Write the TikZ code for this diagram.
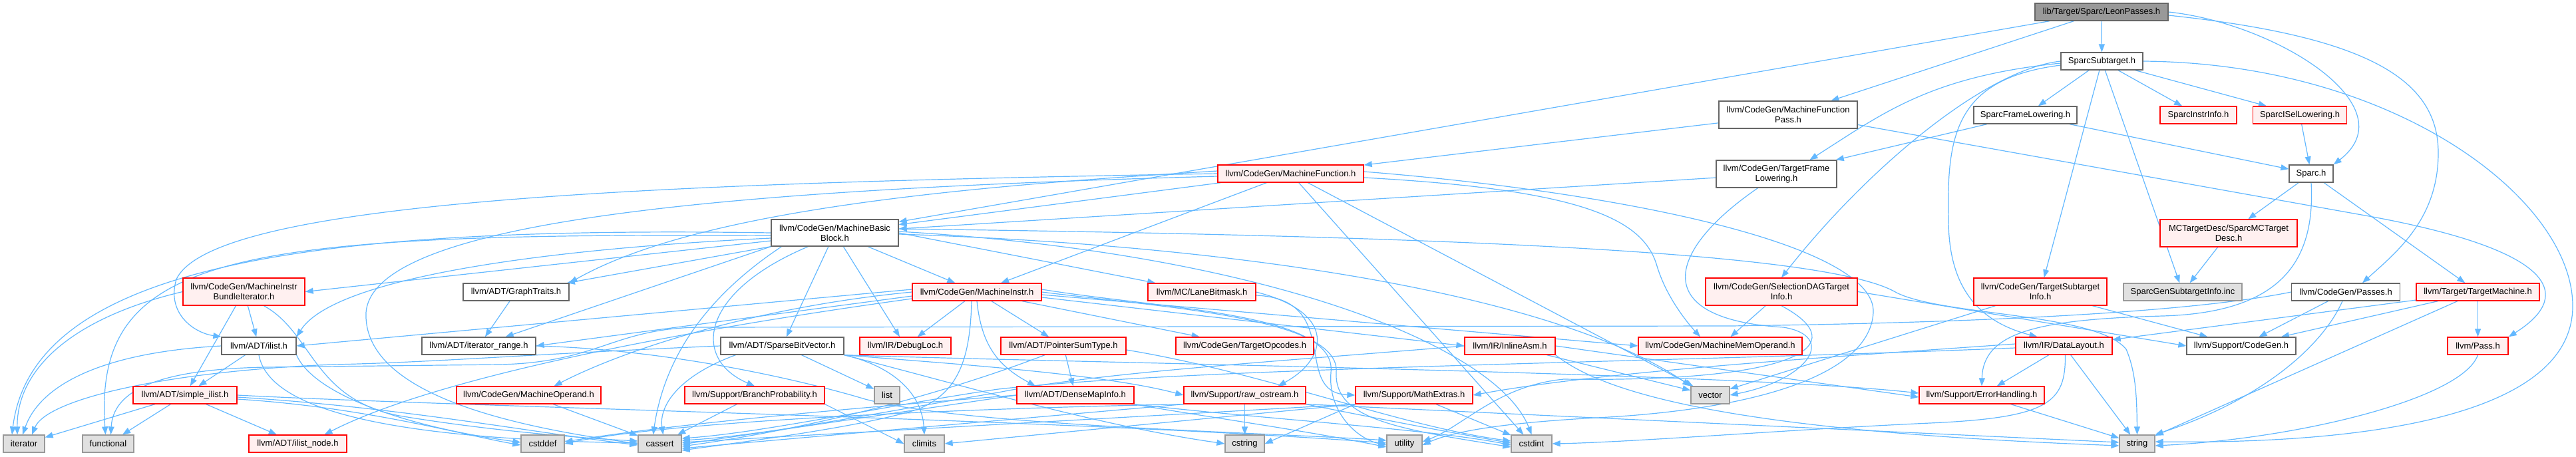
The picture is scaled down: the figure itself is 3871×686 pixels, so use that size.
\documentclass[tikz,border=0pt]{standalone}
\usepackage{fontspec}
\newfontfamily\dfont{Liberation Sans}
\usetikzlibrary{arrows.meta}
\definecolor{cedge}{HTML}{63B8FF}
\definecolor{cdark}{HTML}{666666}
\definecolor{cmid}{HTML}{999999}
\definecolor{cred}{HTML}{FF0000}
\definecolor{cpink}{HTML}{FFF0F0}
\definecolor{clgray}{HTML}{E0E0E0}
\pgfdeclarelayer{bg}
\pgfsetlayers{bg,main}
\tikzset{
  nbase/.style={line width=1.3pt, inner sep=0pt, align=center, font=\dfont\fontsize{13}{15}\selectfont},
  nbw/.style={nbase, draw=cdark, fill=white},
  nbr/.style={nbase, draw=cred, fill=cpink},
  nbg/.style={nbase, draw=cmid, fill=clgray},
  nbroot/.style={nbase, draw=cdark, fill=cmid},
  sz/.style 2 args={minimum width=#1pt, minimum height=#2pt},
  edg/.style={draw=cedge, line width=1.2pt, -{Triangle[length=12pt,width=9pt]}},
}
\begin{document}
\begin{tikzpicture}[x=1pt,y=-1pt]
\useasboundingbox (0,0) rectangle (3871,686);
% ---------- nodes ----------
\node[nbroot, sz={200}{26}] (leon) at (3158,18) {lib/Target/Sparc/LeonPasses.h};
\node[nbw, sz={123}{26}] (sub) at (3158.5,92) {SparcSubtarget.h};
\node[nbw, sz={208}{41}] (mfp) at (2687,172.5) {llvm/CodeGen/MachineFunction\\Pass.h};
\node[nbw, sz={155}{26}] (sfl) at (3043.5,173) {SparcFrameLowering.h};
\node[nbr, sz={115}{26}] (sii) at (3303.5,173) {SparcInstrInfo.h};
\node[nbr, sz={141}{26}] (sisel) at (3456,173) {SparcISelLowering.h};
\node[nbr, sz={219}{26}] (mf) at (1939.5,261) {llvm/CodeGen/MachineFunction.h};
\node[nbw, sz={181}{41}] (tfl) at (2669.5,261.5) {llvm/CodeGen/TargetFrame\\Lowering.h};
\node[nbw, sz={66}{26}] (sparc) at (3473,261) {Sparc.h};
\node[nbw, sz={191}{40}] (mbb) at (1254.5,350) {llvm/CodeGen/MachineBasic\\Block.h};
\node[nbr, sz={206}{41}] (mctd) at (3349,350.5) {MCTargetDesc/SparcMCTarget\\Desc.h};
% row 2
\node[nbr, sz={183}{41}] (mibi) at (366.5,438.5) {llvm/CodeGen/MachineInstr\\BundleIterator.h};
\node[nbw, sz={159}{26}] (gt) at (775.5,439) {llvm/ADT/GraphTraits.h};
\node[nbr, sz={194}{26}] (mi) at (1468,439) {llvm/CodeGen/MachineInstr.h};
\node[nbr, sz={162}{26}] (lane) at (1806,439) {llvm/MC/LaneBitmask.h};
\node[nbr, sz={228}{41}] (sdag) at (2677,438.5) {llvm/CodeGen/SelectionDAGTarget\\Info.h};
\node[nbr, sz={200}{41}] (tsi) at (3066,438.5) {llvm/CodeGen/TargetSubtarget\\Info.h};
\node[nbg, sz={178}{26}] (gensub) at (3280,439) {SparcGenSubtargetInfo.inc};
\node[nbw, sz={163}{26}] (passes) at (3525,439) {llvm/CodeGen/Passes.h};
\node[nbr, sz={185}{26}] (tm) at (3723.5,439) {llvm/Target/TargetMachine.h};
% row 3
\node[nbw, sz={112}{26}] (ilist) at (389,520) {llvm/ADT/ilist.h};
\node[nbw, sz={171}{26}] (itr) at (719.5,520) {llvm/ADT/iterator\_range.h};
\node[nbw, sz={185}{26}] (sbv) at (1175.5,520) {llvm/ADT/SparseBitVector.h};
\node[nbr, sz={137}{26}] (dl) at (1360.5,520) {llvm/IR/DebugLoc.h};
\node[nbr, sz={188}{26}] (pst) at (1598,520) {llvm/ADT/PointerSumType.h};
\node[nbr, sz={207}{26}] (topc) at (1870.5,520) {llvm/CodeGen/TargetOpcodes.h};
\node[nbr, sz={136}{26}] (iasm) at (2269,520) {llvm/IR/InlineAsm.h};
\node[nbr, sz={246}{26}] (mmo) at (2585,520) {llvm/CodeGen/MachineMemOperand.h};
\node[nbr, sz={145}{26}] (layout) at (3101.5,520) {llvm/IR/DataLayout.h};
\node[nbw, sz={164}{26}] (cg) at (3368,520) {llvm/Support/CodeGen.h};
\node[nbr, sz={91}{26}] (pass) at (3723.5,520) {llvm/Pass.h};
% row 4
\node[nbr, sz={156}{26}] (silist) at (278,594) {llvm/ADT/simple\_ilist.h};
\node[nbr, sz={217}{26}] (mo) at (794.5,594) {llvm/CodeGen/MachineOperand.h};
\node[nbr, sz={210}{26}] (bp) at (1134,594) {llvm/Support/BranchProbability.h};
\node[nbg, sz={38}{26}] (list) at (1333,594) {list};
\node[nbr, sz={176}{26}] (dmi) at (1616,594) {llvm/ADT/DenseMapInfo.h};
\node[nbr, sz={183}{26}] (ros) at (1870.5,594) {llvm/Support/raw\_ostream.h};
\node[nbr, sz={176}{26}] (math) at (2125,594) {llvm/Support/MathExtras.h};
\node[nbg, sz={58}{26}] (vector) at (2570,594) {vector};
\node[nbr, sz={188}{26}] (eh) at (2978,594) {llvm/Support/ErrorHandling.h};
% row 5
\node[nbg, sz={62}{26}] (iterator) at (36,667) {iterator};
\node[nbg, sz={77}{26}] (functional) at (162.5,667) {functional};
\node[nbr, sz={147}{26}] (ilistnode) at (447.5,667) {llvm/ADT/ilist\_node.h};
\node[nbg, sz={65}{26}] (cstddef) at (815.5,667) {cstddef};
\node[nbg, sz={65}{26}] (cassert) at (991.5,667) {cassert};
\node[nbg, sz={60}{26}] (climits) at (1389,667) {climits};
\node[nbg, sz={59}{26}] (cstring) at (1870.5,667) {cstring};
\node[nbg, sz={53}{26}] (utility) at (2110.5,667) {utility};
\node[nbg, sz={61}{26}] (cstdint) at (2301.5,667) {cstdint};
\node[nbg, sz={53}{26}] (string) at (3211.5,667) {string};
% ---------- edges ----------
\begin{pgfonlayer}{bg}
% LeonPasses
\draw[edg] (leon) -- (sub);
\draw[edg] (leon) -- (mfp);
\draw[edg] (leon) -- (mbb);
\draw[edg] (leon.east) .. controls (3420,35) and (3620,160) .. (sparc.north east);
\draw[edg] ([yshift=-5pt]leon.east) .. controls (3560,55) and (3664,120) .. (3664,230) .. controls (3664,330) and (3600,380) .. ([xshift=25pt]passes.north);
% SparcSubtarget
\draw[edg] (sub) -- (sfl);
\draw[edg] (sub) -- (sii);
\draw[edg] (sub) -- (sisel);
\draw[edg] (sub) -- (tsi);
\draw[edg] (sub) -- (gensub);
\draw[edg] (sub.west) .. controls (2980,105) and (2800,260) .. (sdag.north);
\draw[edg] ([yshift=-3pt]sub.west) .. controls (2900,115) and (2830,170) .. ([xshift=50pt]tfl.north);
\draw[edg] ([yshift=-6pt]sub.west) .. controls (2940,118) and (2925,200) .. (2928,330) .. controls (2928,440) and (2980,485) .. ([xshift=-40pt]layout.north);
\draw[edg] (sub.east) .. controls (3600,95) and (3866,300) .. (3866,460) .. controls (3866,640) and (3500,667) .. ([yshift=3pt]string.east);
% MachineFunctionPass
\draw[edg] (mfp) -- (mf);
\draw[edg] ([yshift=-15pt]mfp.east) -- (3560,325) .. controls (3860,380) and (3860,450) .. (pass.north east);
% SparcFrameLowering, ISel, Sparc, MCTargetDesc
\draw[edg] (sfl) -- (sparc);
\draw[edg] (sfl) -- (tfl);
\draw[edg] (sisel) -- (sparc);
\draw[edg] (sparc) -- (mctd);
\draw[edg] (sparc) -- (tm);
\draw[edg] (sparc.south) .. controls (3480,400) and (3420,470) .. (3250,475) .. controls (3060,480) and (2980,500) .. (eh.north);
\draw[edg] (mctd) -- (gensub);
% TargetFrameLowering
\draw[edg] (tfl) -- (mbb);
\draw[edg] ([xshift=-28pt]tfl.south) .. controls (2500,380) and (2480,480) .. (2680,492) .. controls (2760,505) and (2720,570) .. (vector.east);
% MachineFunction
\draw[edg] (mf) -- (mbb);
\draw[edg] (mf) -- (mi);
\draw[edg] (mf) -- (vector);
\draw[edg] (mf) -- (cstdint);
\draw[edg] ([yshift=-6pt]mf.east) .. controls (2380,285) and (2470,330) .. (2490,400) .. controls (2505,450) and (2540,490) .. ([xshift=-30pt]mmo.north);
\draw[edg] ([yshift=3pt]mf.east) .. controls (2450,290) and (2820,370) .. (2815,470) .. controls (2810,560) and (2650,615) .. (2400,628) .. controls (2250,636) and (2180,650) .. ([yshift=-2pt]utility.east);
\draw[edg] ([yshift=4pt]mf.west) .. controls (1450,280) and (1050,315) .. (gt.north east);
\draw[edg] (mf.west) .. controls (1000,275) and (320,300) .. (265,420) .. controls (250,470) and (290,500) .. (ilist.north west);
\draw[edg] ([yshift=-4pt]mf.west) .. controls (1100,285) and (560,330) .. (550,470) .. controls (545,600) and (800,645) .. (cassert.west);
% MachineBasicBlock
\draw[edg] ([yshift=-12pt]mbb.west) -- (mibi.east);
\draw[edg] ([yshift=-8pt]mbb.west) .. controls (800,375) and (500,420) .. (ilist.north east);
\draw[edg] (mbb.west) .. controls (500,340) and (50,390) .. ([xshift=-18pt]iterator.north);
\draw[edg] ([yshift=-4pt]mbb.west) .. controls (350,350) and (140,380) .. ([xshift=-4pt]functional.north);
\draw[edg] (mbb.south west) -- (gt);
\draw[edg] (mbb.south west) -- (itr);
\draw[edg] (mbb) -- (sbv);
\draw[edg] (mbb) -- (dl);
\draw[edg] (mbb) -- (mi);
\draw[edg] (mbb.east) -- (lane);
\draw[edg] ([xshift=-40pt]mbb.south) .. controls (1050,440) and (1040,540) .. (bp.north);
\draw[edg] ([xshift=-80pt]mbb.south) .. controls (1040,460) and (995,560) .. ([xshift=-10pt]cassert.north);
\draw[edg] ([yshift=2pt]mbb.east) .. controls (1900,380) and (2250,520) .. (cstdint.north);
\draw[edg] ([yshift=6pt]mbb.east) .. controls (2200,355) and (2750,380) .. (2850,440) .. controls (2920,475) and (3150,470) .. (3195,525) .. controls (3210,560) and (3211,600) .. (string.north);
\draw[edg] ([yshift=-2pt]mbb.east) .. controls (1900,370) and (2350,450) .. (vector.north west);
% MachineInstrBundleIterator
\draw[edg] (mibi) -- (ilist);
\draw[edg] (mibi) -- (silist);
\draw[edg] (mibi.west) .. controls (100,480) and (25,560) .. ([xshift=-10pt]iterator.north);
\draw[edg] ([xshift=30pt]mibi.south) .. controls (470,500) and (470,600) .. (600,625) .. controls (750,650) and (900,660) .. ([yshift=4pt]cassert.west);
% ilist
\draw[edg] (ilist) -- (silist);
\draw[edg] (ilist.west) .. controls (150,530) and (60,580) .. ([xshift=-2pt]iterator.north);
\draw[edg] (ilist.south) .. controls (405,620) and (600,660) .. ([yshift=1pt]cassert.west);
\draw[edg] (ilist.south east) .. controls (470,590) and (600,640) .. ([yshift=2pt]cstddef.west);
% simple_ilist
\draw[edg] (silist) -- (ilistnode);
\draw[edg] (silist) -- (functional);
\draw[edg] (silist) -- (iterator);
\draw[edg] (silist.east) .. controls (700,612) and (1600,630) .. ([yshift=1pt]utility.west);
\draw[edg] ([yshift=-3pt]silist.east) .. controls (600,612) and (800,650) .. ([yshift=-2pt]cassert.west);
\draw[edg] ([yshift=-6pt]silist.east) .. controls (550,612) and (700,655) .. ([yshift=-2pt]cstddef.west);
% GraphTraits, iterator_range
\draw[edg] (gt) -- (itr);
\draw[edg] (itr.east) .. controls (1000,525) and (1200,570) .. (1300,600) .. controls (1450,640) and (1900,650) .. ([yshift=5pt]utility.west);
% SparseBitVector
\draw[edg] (sbv) -- (list);
\draw[edg] ([xshift=-70pt]sbv.south) .. controls (1020,565) and (990,610) .. ([xshift=5pt]cassert.north);
\draw[edg] (sbv.west) .. controls (800,532) and (650,545) .. (500,548) .. controls (250,558) and (70,600) .. ([xshift=12pt]iterator.north);
\draw[edg] (sbv.south east) .. controls (1600,545) and (2600,560) .. ([yshift=3pt]eh.west);
\draw[edg] (sbv.south east) .. controls (1400,545) and (1650,560) .. (ros.west);
\draw[edg] (sbv.south east) .. controls (1340,550) and (1385,590) .. (climits.north);
\draw[edg] (sbv.south east) .. controls (1450,580) and (1650,640) .. (cstring.west);
% MachineInstr
\draw[edg] (mi) -- (dl);
\draw[edg] (mi) -- (pst);
\draw[edg] (mi) -- (topc);
\draw[edg] (mi.south) .. controls (1475,520) and (1500,550) .. ([xshift=-60pt]dmi.north);
\draw[edg] ([yshift=4pt]mi.west) -- (ilist.east);
\draw[edg] ([yshift=-6pt]mi.west) -- (itr.east);
\draw[edg] (mi.west) .. controls (1150,460) and (950,520) .. ([xshift=38pt]mo.north);
\draw[edg] ([yshift=-10pt]mi.west) .. controls (1000,500) and (650,570) .. ([xshift=40pt]ilistnode.north);
\draw[edg] ([yshift=-4pt]mi.east) -- (mmo.west);
\draw[edg] ([yshift=-8pt]mi.east) -- (iasm.west);
\draw[edg] ([xshift=-8pt]mi.south) .. controls (1458,540) and (1440,590) .. (1380,615) .. controls (1300,640) and (1150,660) .. ([yshift=-10pt]cassert.east);
\draw[edg] ([yshift=4pt]mi.east) .. controls (1750,465) and (2010,470) .. (2000,560) .. controls (1995,620) and (2040,660) .. ([yshift=-2pt]utility.west);
\draw[edg] (mi.east) .. controls (1750,462) and (2015,478) .. (2008,560) .. controls (2005,630) and (2100,645) .. ([yshift=-5pt]cstdint.west);
% LaneBitmask
\draw[edg] (lane.east) .. controls (2010,470) and (1995,540) .. ([xshift=50pt]ros.north);
\draw[edg] ([yshift=-5pt]lane.east) .. controls (2020,450) and (1940,590) .. (math.west);
% PointerSumType
\draw[edg] (pst) -- (dmi);
\draw[edg] ([xshift=-28pt]pst.south) .. controls (1450,580) and (1250,640) .. ([yshift=-4pt]cassert.east);
\draw[edg] ([yshift=-6pt]pst.east) .. controls (1900,560) and (2100,640) .. ([yshift=4pt]cstdint.west);
% InlineAsm
\draw[edg] (iasm.east) -- ([yshift=-3pt]eh.west);
\draw[edg] (iasm) -- (vector);
\draw[edg] (iasm.south east) .. controls (2420,600) and (2650,650) .. ([yshift=-3pt]string.west);
\draw[edg] (iasm.west) .. controls (1900,545) and (1650,560) .. (1500,590) .. controls (1350,615) and (1150,655) .. ([yshift=5pt]cassert.east);
% SelectionDAGTargetInfo
\draw[edg] (sdag) -- (mmo);
\draw[edg] (sdag.east) -- (cg.west);
\draw[edg] (sdag.south) .. controls (2790,520) and (2700,575) .. (2350,570) .. controls (2250,580) and (2200,640) .. ([yshift=3pt]utility.east);
% TargetSubtargetInfo
\draw[edg] (tsi) -- (cg);
\draw[edg] (tsi) -- (vector);
% DataLayout
\draw[edg] (layout) -- (eh);
\draw[edg] (layout) -- (string);
\draw[edg] ([yshift=3pt]layout.west) .. controls (2700,540) and (2400,560) .. (math.east);
\draw[edg] ([yshift=-3pt]layout.west) .. controls (2500,545) and (1800,552) .. (1500,585) .. controls (1340,608) and (1150,650) .. ([yshift=8pt]cassert.east);
\draw[edg] ([xshift=2pt]layout.south) .. controls (3104,605) and (3080,628) .. (2900,636) .. controls (2700,645) and (2450,665) .. (cstdint.east);
% Passes
\draw[edg] (passes) -- (cg);
\draw[edg] ([xshift=-5pt]passes.south) .. controls (3490,520) and (3400,600) .. (string.north east);
\draw[edg] (passes.west) .. controls (3300,468) and (3000,485) .. (2600,490) -- (1050,492) .. controls (920,494) and (900,545) .. (750,548) -- (400,552) .. controls (230,555) and (170,590) .. ([xshift=4pt]functional.north);
% TargetMachine
\draw[edg] (tm) -- (pass);
\draw[edg] (tm) -- (cg);
\draw[edg] (tm) -- (layout);
\draw[edg] (tm) -- (string);
% Pass, ErrorHandling
\draw[edg] (pass.south) .. controls (3700,600) and (3450,660) .. ([yshift=-3pt]string.east);
\draw[edg] (eh) -- (string);
% raw_ostream
\draw[edg] (ros) -- (cstring);
\draw[edg] (ros.south west) -- ([yshift=-7pt]cassert.east);
\draw[edg] (ros.south west) .. controls (1400,615) and (1000,635) .. (cstddef.east);
\draw[edg] (ros.south east) .. controls (2050,625) and (2150,645) .. ([yshift=1pt]cstdint.west);
\draw[edg] (ros.south east) -- ([yshift=2pt]string.west);
% MathExtras
\draw[edg] (math.south west) -- ([yshift=2pt]cassert.east);
\draw[edg] (math.south west) -- (climits.east);
\draw[edg] (math) -- (cstdint);
\draw[edg] (math.south west) -- (cstring.east);
% DenseMapInfo
\draw[edg] (dmi.west) -- ([yshift=-1pt]cassert.east);
\draw[edg] (dmi.west) .. controls (1200,620) and (1000,640) .. ([yshift=3pt]cstddef.east);
\draw[edg] (dmi.south east) .. controls (1900,630) and (2150,645) .. ([yshift=-2pt]cstdint.west);
\draw[edg] (dmi.south east) .. controls (1800,625) and (1950,645) .. ([yshift=-5pt]utility.west);
% BranchProbability, MachineOperand
\draw[edg] (bp) -- (cassert);
\draw[edg] (bp.south east) -- (climits.west);
\draw[edg] (mo) -- (cassert);
\end{pgfonlayer}
\end{tikzpicture}
\end{document}
